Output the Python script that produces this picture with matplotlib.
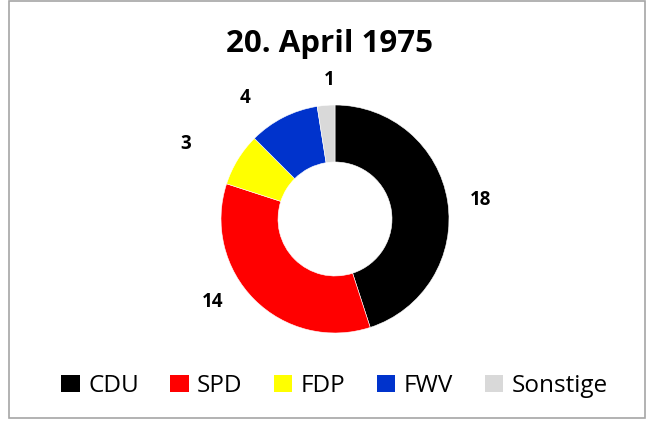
import numpy as np
import matplotlib.pyplot as plt
from matplotlib.patches import Rectangle, Patch

plt.rcParams['font.family'] = ['Open Sans', 'DejaVu Sans']

parties = ['CDU', 'SPD', 'FDP', 'FWV', 'Sonstige']
seats = [18, 14, 3, 4, 1]
colors = ['#000000', '#FF0000', '#FFFF00', '#0033CC', '#D9D9D9']

W, H = 647, 423
fig = plt.figure(figsize=(W / 100, H / 100), dpi=100)

# outer frame like the spreadsheet chart area
fig.patches.append(Rectangle((9 / W, 5 / H), 636 / W, 417 / H, transform=fig.transFigure,
                             fill=False, edgecolor='#A6A6A6', linewidth=1.2))

# donut centred at (335, 219) px, outer radius 114 px
cx, cy, r = 335, 219, 114
ax = fig.add_axes([(cx - r) / W, (H - cy - r) / H, 2 * r / W, 2 * r / H])
wedges, _ = ax.pie(seats, colors=colors, startangle=90, counterclock=False,
                   radius=1, wedgeprops=dict(width=0.5, edgecolor='white', linewidth=0.4))
ax.set_xlim(-1, 1)
ax.set_ylim(-1, 1)
ax.axis('off')

# label placement (best-fit style): radial distance and angle nudge per wedge
lab_r = [1.29, 1.30, 1.47, 1.32, 1.22]
lab_shift = [-1.4, -11, 4.8, 9.7, -2]
for w, v, lr, sh in zip(wedges, seats, lab_r, lab_shift):
    ang = np.deg2rad((w.theta1 + w.theta2) / 2 + sh)
    ax.text(lr * np.cos(ang), lr * np.sin(ang), str(v), ha='center', va='center',
            fontsize=13.5, fontweight='bold', clip_on=False)

fig.text(329 / W, 1 - 44 / H, '20. April 1975', ha='center', va='center',
         fontsize=22.5, fontweight='bold')

handles = [Patch(facecolor=c, edgecolor='none') for c in colors]
fig.legend(handles, parties, loc='center', bbox_to_anchor=(0.517, 1 - 386 / H), ncol=5,
           frameon=False, fontsize=17.5, handlelength=0.75, handleheight=0.75,
           handletextpad=0.35, columnspacing=1.3)

fig.savefig('out.png', dpi=100)
